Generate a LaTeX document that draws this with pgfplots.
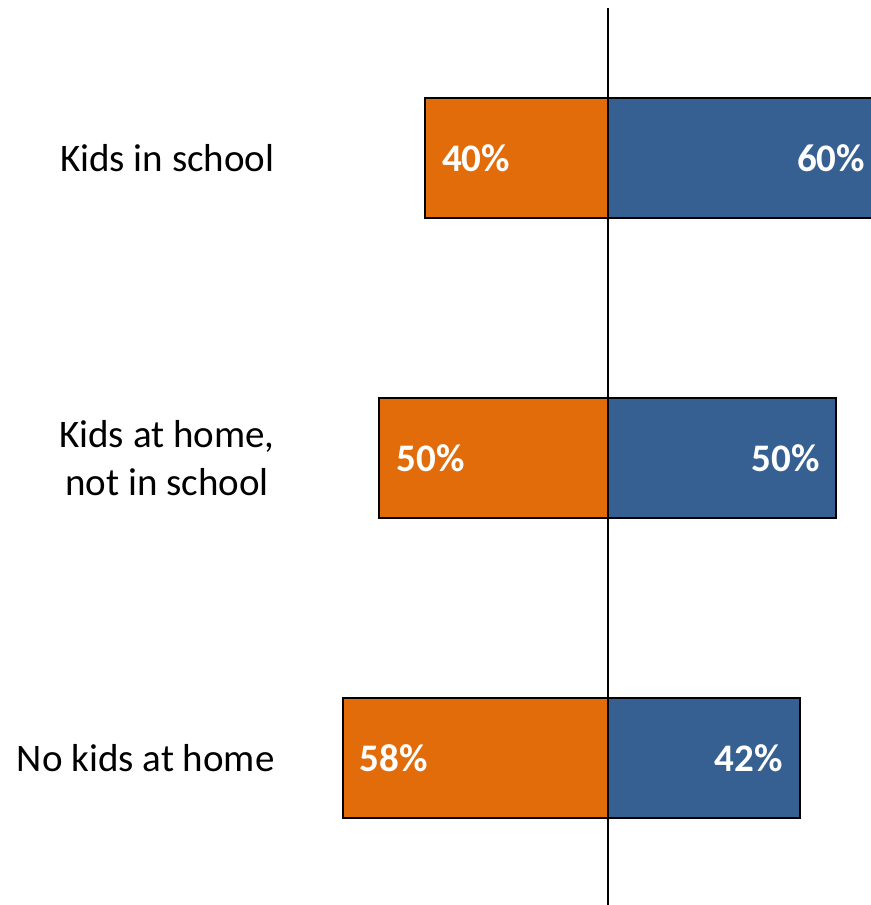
\documentclass[border=0pt]{standalone}
\usepackage{fontspec}
\setmainfont{Carlito}
\usepackage{pgfplots}
\pgfplotsset{compat=1.18}
\definecolor{orng}{RGB}{227,108,10}
\definecolor{blu}{RGB}{54,96,146}
\begin{document}
\begin{tikzpicture}
\begin{axis}[
  at={(0pt,0pt)}, anchor=south west,
  scale only axis,
  width=300.65pt, height=448.5pt,
  xmin=-69.58, xmax=62,
  ymin=-0.49, ymax=2.5,
  axis line style={draw=none},
  major tick style={draw=none},
  xtick=\empty,
  ytick={0,1,2},
  yticklabels={No kids at home, {Kids at home,\\not in school}, Kids in school},
  yticklabel style={anchor=east, align=center, inner sep=0pt, xshift=-7.5pt,
    font=\fontsize{19.5}{24}\selectfont},
  bar width=0.4,
  point meta=explicit symbolic,
  clip=false,
]
\addplot[xbar, bar shift=0pt, fill=orng, draw=black, line width=1pt,
  nodes near coords,
  nodes near coords style={anchor=west, xshift=8pt, inner sep=0pt, text=white,
    font=\fontsize{19.5}{24}\selectfont\bfseries}]
  coordinates {(-58,0) [58\%] (-50,1) [50\%] (-40,2) [40\%]};
\addplot[xbar, bar shift=0pt, fill=blu, draw=black, line width=1pt,
  nodes near coords,
  nodes near coords style={anchor=east, xshift=-8pt, inner sep=0pt, text=white,
    font=\fontsize{19.5}{24}\selectfont\bfseries}]
  coordinates {(42,0) [42\%] (50,1) [50\%] (60,2) [60\%]};
\addplot[black, line width=1.3pt] coordinates {(0,-0.49) (0,2.5)};
\end{axis}
\pgfresetboundingbox
\useasboundingbox (-145pt,0pt) rectangle (290.5pt,452.5pt);
\end{tikzpicture}
\end{document}
